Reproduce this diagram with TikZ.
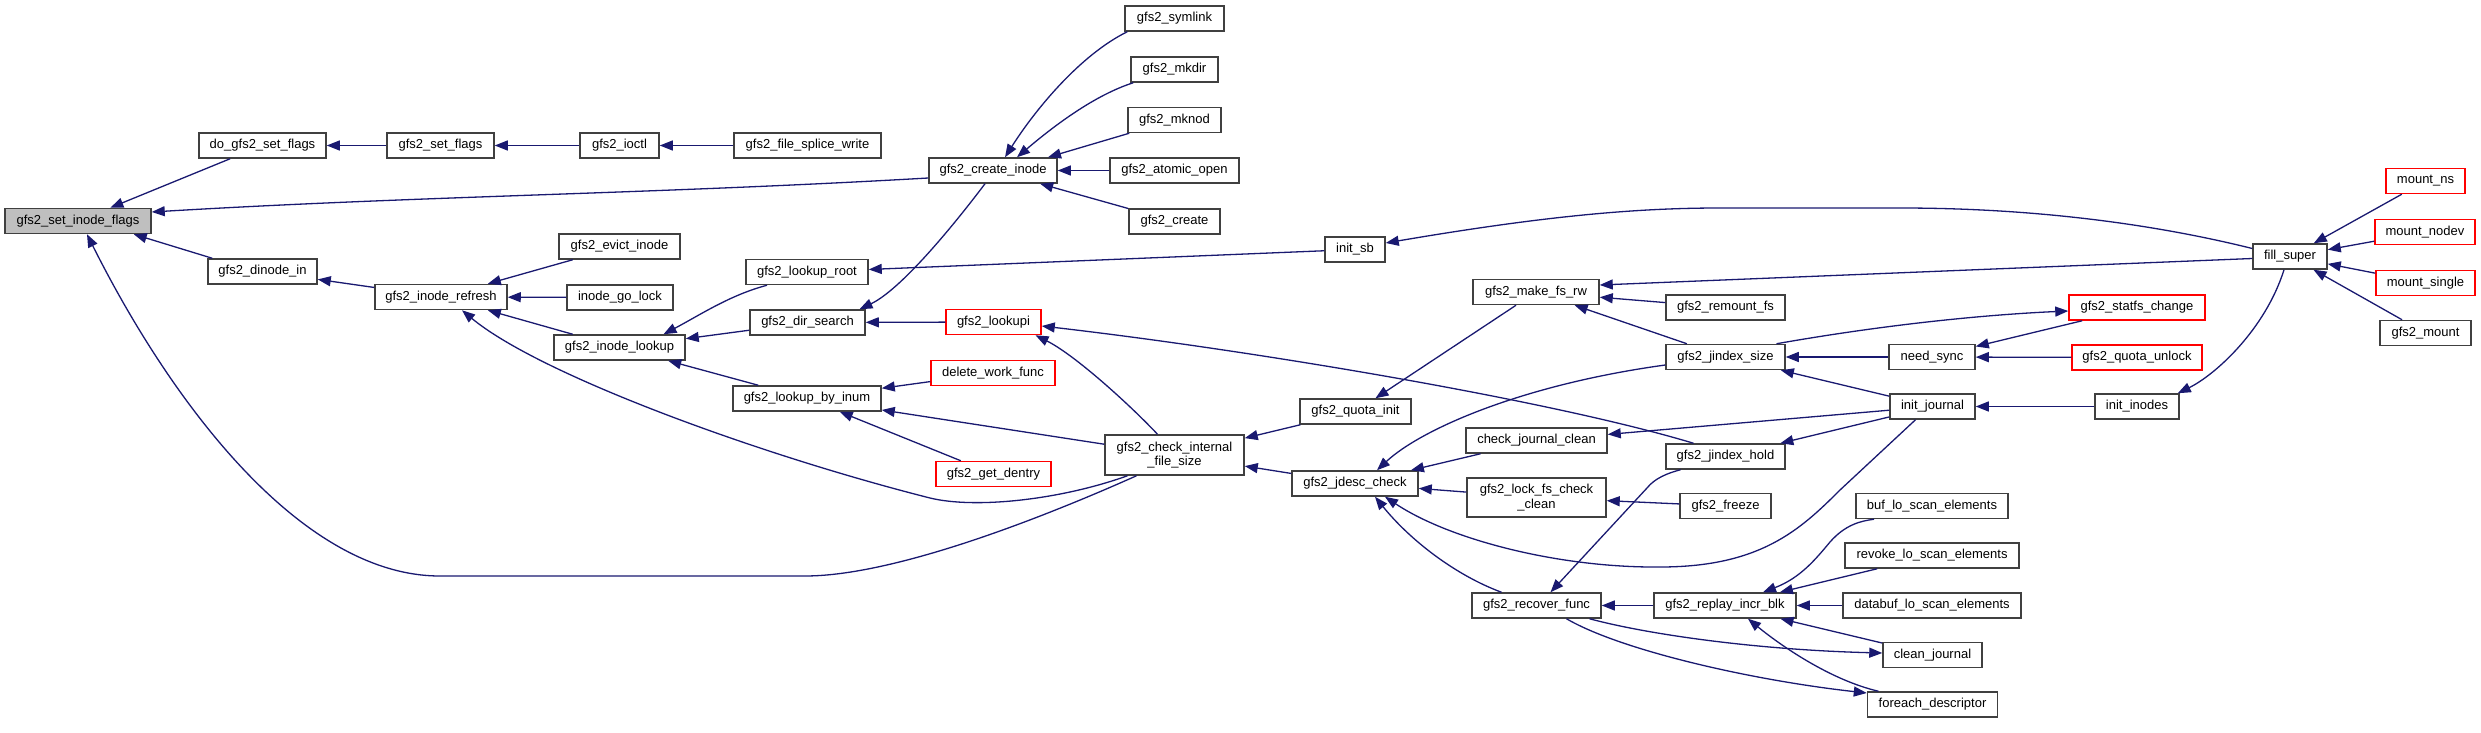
\documentclass[tikz,border=0pt]{standalone}
\usepackage{fontspec}
\setmainfont{Liberation Sans}
\usetikzlibrary{arrows.meta}
\definecolor{edgec}{RGB}{25,25,112}
\definecolor{nborder}{RGB}{64,64,64}
\definecolor{rootfill}{RGB}{191,191,191}
\definecolor{redb}{RGB}{255,0,0}
\begin{document}
\begin{tikzpicture}[x=1pt,y=-1pt,
  fn/.style={draw=nborder, line width=1.5pt, fill=white, minimum height=25pt, inner sep=0pt,
    font=\fontsize{13}{14.5}\selectfont, anchor=center, align=center},
  rn/.style={fn, draw=redb},
  root/.style={fn, fill=rootfill},
  tall/.style={minimum height=40pt},
  e/.style={draw=edgec, line width=1.3pt, {Triangle[length=13pt,width=10pt]}-}
]
\useasboundingbox (0,0) rectangle (2481,733);
% column 1
\node[root, minimum width=146pt] (sif) at (78,221) {gfs2\_set\_inode\_flags};
% column 2
\node[fn, minimum width=127pt] (dosf) at (262.5,145.5) {do\_gfs2\_set\_flags};
\node[fn, minimum width=109pt] (din) at (262.5,271.5) {gfs2\_dinode\_in};
% column 3
\node[fn, minimum width=107pt] (sf) at (440.5,145.5) {gfs2\_set\_flags};
\node[fn, minimum width=132pt] (ref) at (441,297) {gfs2\_inode\_refresh};
% column 4
\node[fn, minimum width=79pt] (ioctl) at (619.5,145.5) {gfs2\_ioctl};
\node[fn, minimum width=121pt] (evict) at (619.5,246.5) {gfs2\_evict\_inode};
\node[fn, minimum width=106pt] (golock) at (620,297.5) {inode\_go\_lock};
\node[fn, minimum width=131pt] (ilook) at (619.5,347.5) {gfs2\_inode\_lookup};
% column 5
\node[fn, minimum width=147pt] (splice) at (807.5,145.5) {gfs2\_file\_splice\_write};
\node[fn, minimum width=122pt] (lroot) at (807,272) {gfs2\_lookup\_root};
\node[fn, minimum width=115pt] (dirs) at (807.5,322.5) {gfs2\_dir\_search};
\node[fn, minimum width=148pt] (byinum) at (807,398.5) {gfs2\_lookup\_by\_inum};
% column 6
\node[fn, minimum width=128pt] (cinode) at (993,170.5) {gfs2\_create\_inode};
\node[rn, minimum width=95pt] (lookupi) at (993.5,322) {gfs2\_lookupi};
\node[rn, minimum width=124pt] (dwf) at (993,373) {delete\_work\_func};
\node[rn, minimum width=115pt] (dentry) at (993.5,474) {gfs2\_get\_dentry};
% column 7
\node[fn, minimum width=99pt] (symlink) at (1174.5,18.5) {gfs2\_symlink};
\node[fn, minimum width=87pt] (mkdir) at (1174.5,69.5) {gfs2\_mkdir};
\node[fn, minimum width=93pt] (mknod) at (1174.5,120) {gfs2\_mknod};
\node[fn, minimum width=129pt] (aopen) at (1174.5,170.5) {gfs2\_atomic\_open};
\node[fn, minimum width=91pt] (create) at (1174.5,221.5) {gfs2\_create};
\node[fn, tall, minimum width=139pt] (cifs) at (1174.5,455) {gfs2\_check\_internal\\\_file\_size};
% column 8
\node[fn, minimum width=60pt] (initsb) at (1355,249.5) {init\_sb};
\node[fn, minimum width=111pt] (qinit) at (1355.5,411.5) {gfs2\_quota\_init};
\node[fn, minimum width=126pt] (jdesc) at (1355,483.5) {gfs2\_jdesc\_check};
% column 9
\node[fn, minimum width=126pt] (mkrw) at (1536,292) {gfs2\_make\_fs\_rw};
\node[fn, minimum width=141pt] (cjc) at (1536.5,440.5) {check\_journal\_clean};
\node[fn, minimum height=39pt, minimum width=139pt] (lfcc) at (1536.5,497.5) {gfs2\_lock\_fs\_check\\\_clean};
\node[fn, minimum width=129pt] (recover) at (1536.5,605.5) {gfs2\_recover\_func};
% column 10
\node[fn, minimum width=119pt] (remount) at (1725.5,307.5) {gfs2\_remount\_fs};
\node[fn, minimum width=119pt] (jsize) at (1725.5,357) {gfs2\_jindex\_size};
\node[fn, minimum width=119pt] (jhold) at (1725.5,456.5) {gfs2\_jindex\_hold};
\node[fn, minimum width=91pt] (freeze) at (1725.5,506) {gfs2\_freeze};
\node[fn, minimum width=142pt] (replay) at (1725,605.5) {gfs2\_replay\_incr\_blk};
% column 11
\node[fn, minimum width=86pt] (needsync) at (1932,357) {need\_sync};
\node[fn, minimum width=85pt] (ijournal) at (1932.5,406.5) {init\_journal};
\node[fn, minimum width=152pt] (buflo) at (1932,506) {buf\_lo\_scan\_elements};
\node[fn, minimum width=174pt] (revlo) at (1932,555.5) {revoke\_lo\_scan\_elements};
\node[fn, minimum width=178pt] (dblo) at (1932,605.5) {databuf\_lo\_scan\_elements};
\node[fn, minimum width=99pt] (cleanj) at (1932.5,655) {clean\_journal};
\node[fn, minimum width=130pt] (foreach) at (1932.5,704.5) {foreach\_descriptor};
% column 12
\node[rn, minimum width=136pt] (statfs) at (2137,307.5) {gfs2\_statfs\_change};
\node[rn, minimum width=130pt] (qunlock) at (2137,357.5) {gfs2\_quota\_unlock};
\node[fn, minimum width=84pt] (iinodes) at (2137,406.5) {init\_inodes};
% column 13
\node[fn, minimum width=74pt] (fill) at (2290,256.5) {fill\_super};
% column 14
\node[rn, minimum width=79pt] (mns) at (2425.5,181) {mount\_ns};
\node[rn, minimum width=100pt] (mnodev) at (2425,232) {mount\_nodev};
\node[rn, minimum width=99pt] (msingle) at (2425.5,283) {mount\_single};
\node[fn, minimum width=91pt] (gmount) at (2425.5,333) {gfs2\_mount};

% edges (arrow at the first node)
\draw[e] (sif) -- (dosf);
\draw[e] ([yshift=9pt]sif.east) .. controls (420,196) and (650,194) .. ([yshift=-7.5pt]cinode.west);
\draw[e] ([xshift=-18pt]sif.south east) -- ([xshift=5pt]din.north west);
\draw[e] ([xshift=9pt]sif.south) .. controls (170,400) and (300,576) .. (440,576) -- (805,576) .. controls (900,576) and (1060,510) .. ([xshift=-38pt]cifs.south);
\draw[e] (dosf) -- (sf);
\draw[e] (sf) -- (ioctl);
\draw[e] (ioctl) -- (splice);
\draw[e] (din) -- (ref);
\draw[e] (ref) -- (evict);
\draw[e] (ref) -- (golock);
\draw[e] (ref) -- (ilook);
\draw[e] ([xshift=21pt]ref.south) .. controls (540,375) and (760,455) .. (930,498) .. controls (975,509) and (1060,500) .. ([xshift=-47pt]cifs.south);
\draw[e] ([xshift=44pt]ilook.north) .. controls (700,315) and (730,295) .. ([xshift=-40pt]lroot.south);
\draw[e] (ilook) -- (dirs);
\draw[e] (ilook) -- (byinum);
\draw[e] (lroot) -- (initsb);
\draw[e] ([xshift=52pt]dirs.north) .. controls (900,290) and (950,230) .. ([xshift=-8pt]cinode.south);
\draw[e] (dirs) -- (lookupi);
\draw[e] ([xshift=42pt]lookupi.south) .. controls (1075,355) and (1130,405) .. ([xshift=-17pt]cifs.north);
\draw[e] ([yshift=-4pt]lookupi.east) .. controls (1250,350) and (1550,400) .. ([xshift=-32pt]jhold.north);
\draw[e] (byinum) -- (dwf);
\draw[e] (byinum) -- (cifs);
\draw[e] (byinum) -- (dentry);
\draw[e] ([xshift=12pt]cinode.north) .. controls (1035,110) and (1080,55) .. ([xshift=3pt]symlink.south west);
\draw[e] ([xshift=24pt]cinode.north) .. controls (1055,125) and (1095,95) .. ([xshift=3pt]mkdir.south west);
\draw[e] ([xshift=55pt]cinode.north) -- ([xshift=2pt]mknod.south west);
\draw[e] (cinode) -- (aopen);
\draw[e] (cinode) -- (create);
\draw[e] (cifs) -- (qinit);
\draw[e] (cifs) -- (jdesc);
\draw[e] (qinit) -- (mkrw);
\draw[e] ([xshift=22pt]jdesc.north) .. controls (1420,430) and (1520,385) .. ([yshift=-8pt]jsize.west);
\draw[e] (jdesc) -- (cjc);
\draw[e] (jdesc) -- (lfcc);
\draw[e] ([xshift=30pt]jdesc.south) .. controls (1450,540) and (1560,568) .. (1660,567) .. controls (1760,567) and (1800,530) .. (1840,490) -- ([xshift=-17pt]ijournal.south);
\draw[e] ([xshift=20pt]jdesc.south) .. controls (1410,540) and (1455,575) .. ([xshift=-35pt]recover.north);
\draw[e] ([yshift=7pt]mkrw.east) -- ([yshift=-2pt]fill.west);
\draw[e] (mkrw) -- (remount);
\draw[e] (mkrw) -- (jsize);
\draw[e] (cjc) -- (ijournal);
\draw[e] (lfcc) -- (freeze);
\draw[e] ([xshift=14pt]recover.north) -- (1647,488) .. controls (1655,478) and (1668,473) .. ([xshift=-45pt]jhold.south);
\draw[e] (recover) -- (replay);
\draw[e] ([yshift=2pt]cleanj.west) .. controls (1760,650) and (1650,635) .. ([xshift=53pt]recover.south);
\draw[e] ([yshift=11.5pt]foreach.west) .. controls (1750,680) and (1620,650) .. ([xshift=30pt]recover.south);
\draw[e] (jsize) -- (needsync);
\draw[e] (jsize) -- (ijournal);
\draw[e] ([yshift=-3.5pt]statfs.west) .. controls (2000,314) and (1900,322) .. ([xshift=51pt]jsize.north);
\draw[e] (needsync) -- (statfs);
\draw[e] (needsync) -- (qunlock);
\draw[e] (jhold) -- (ijournal);
\draw[e] ([xshift=38pt]replay.north) .. controls (1800,578) and (1815,560) .. (1830,542) .. controls (1845,525) and (1860,521) .. ([xshift=-58pt]buflo.south);
\draw[e] (replay) -- (revlo);
\draw[e] (replay) -- (dblo);
\draw[e] (replay) -- (cleanj);
\draw[e] ([xshift=23pt]replay.south) .. controls (1780,645) and (1830,680) .. ([xshift=-54pt]foreach.north);
\draw[e] (ijournal) -- (iinodes);
\draw[e] ([xshift=-2pt]iinodes.north east) .. controls (2215,375) and (2265,330) .. ([xshift=-6pt]fill.south);
\draw[e] ([yshift=6.5pt]initsb.east) .. controls (1550,215) and (1640,208) .. (1720,208) -- (1900,208) .. controls (2050,208) and (2170,228) .. ([yshift=8pt]fill.west);
\draw[e] (fill) -- (mns);
\draw[e] (fill) -- (mnodev);
\draw[e] (fill) -- (msingle);
\draw[e] (fill) -- (gmount);
\end{tikzpicture}
\end{document}
